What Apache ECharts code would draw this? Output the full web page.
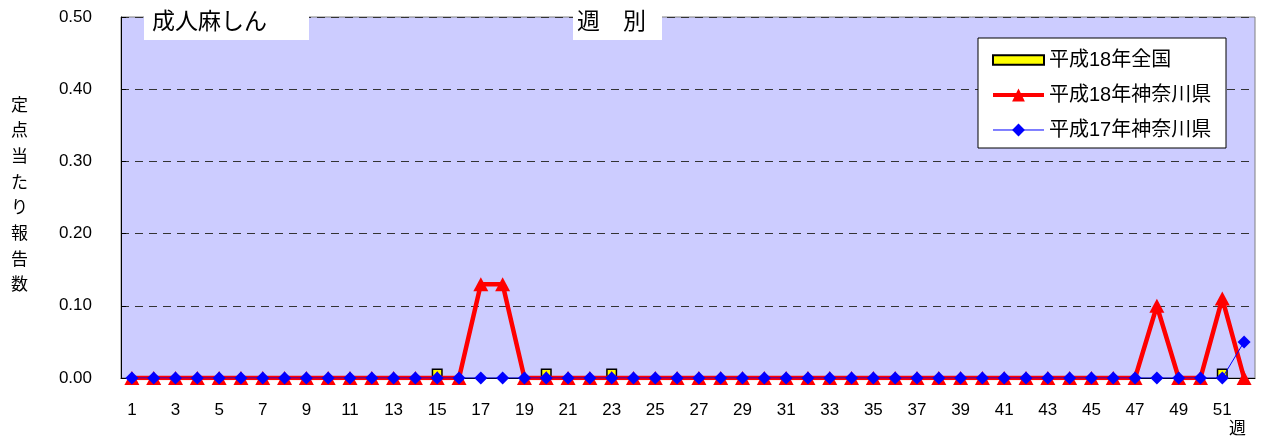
<!DOCTYPE html>
<html><head><meta charset="utf-8">
<script src="https://cdn.jsdelivr.net/npm/echarts@6/dist/echarts.min.js"></script>
<style>html,body{margin:0;padding:0;background:#fff}#c{width:1262px;height:443px}</style>
</head><body><div id="c"></div>
<script>
const weeks = Array.from({length:52},(_,i)=>String(i+1));
const national18 = [null,null,null,null,null,null,null,null,null,null,null,null,null,null,0.013,null,null,null,null,0.013,null,null,0.013,null,null,null,null,null,null,null,null,null,null,null,null,null,null,null,null,null,null,null,null,null,null,null,null,null,null,null,0.013,null];
const kanagawa18 = [0,0,0,0,0,0,0,0,0,0,0,0,0,0,0,0,0.13,0.13,0,0,0,0,0,0,0,0,0,0,0,0,0,0,0,0,0,0,0,0,0,0,0,0,0,0,0,0,0,0.10,0,0,0.11,0];
const kanagawa17 = [0,0,0,0,0,0,0,0,0,0,0,0,0,0,0,0,0,0,0,0,0,0,0,0,0,0,0,0,0,0,0,0,0,0,0,0,0,0,0,0,0,0,0,0,0,0,0,0,0,0,0,0.05];
const seriesNames = ['平成18年全国','平成18年神奈川県','平成17年神奈川県'];
const yTicks = [0,0.1,0.2,0.3,0.4,0.5];
const FONT = 'Liberation Sans, Noto Sans CJK JP, sans-serif';

const chart = echarts.init(document.getElementById('c'));
chart.setOption({
  animation:false,
  textStyle:{fontFamily:FONT},
  grid:{left:121,right:7,top:17,bottom:65,show:true,backgroundColor:'#CCCCFF',borderColor:'#808080',borderWidth:1},
  xAxis:{type:'category',data:weeks,boundaryGap:true,
    axisLine:{lineStyle:{color:'#000',width:1}},
    axisTick:{inside:true,length:5,interval:0,lineStyle:{color:'#000'}},
    axisLabel:{interval:1,color:'#000',fontSize:17,margin:24,fontFamily:FONT}},
  yAxis:{type:'value',min:0,max:0.5,interval:0.1,
    axisLine:{show:true,lineStyle:{color:'#000'}},
    axisTick:{show:true,inside:true,length:5,lineStyle:{color:'#000'}},
    splitLine:{show:true,lineStyle:{color:'#333',type:[8,6],width:1}},
    axisLabel:{color:'#000',fontSize:17,margin:29,fontFamily:FONT,formatter:v=>v.toFixed(2)}},
  legend:{orient:'vertical',left:986,top:45,itemWidth:51,itemHeight:16,itemGap:15,itemSymbolKeepAspect:true,
    textStyle:{fontSize:20,color:'#000',fontFamily:FONT},
    data:[{name:seriesNames[0],icon:'path://M0,0H48V9H0Z'},
      {name:seriesNames[1],lineStyle:{width:4,color:'#FF0000'}},
      {name:seriesNames[2],lineStyle:{width:1,color:'#0000FF'}}],
    z:10},
  graphic:[
    {type:'rect',shape:{x:978,y:38,width:248,height:110},style:{fill:'#fff',stroke:'#000',lineWidth:1},z:5},
    {type:'rect',shape:{x:144,y:4,width:165,height:36},style:{fill:'#fff'},z:5},
    {type:'rect',shape:{x:573,y:4,width:89,height:36},style:{fill:'#fff'},z:5},
    {type:'text',left:152,top:11,style:{text:'成人麻しん',font:'23px '+FONT,fill:'#000'},z:6},
    {type:'text',left:577,top:11,style:{text:'週　別',font:'23px '+FONT,fill:'#000'},z:6},
    {type:'text',left:11,top:93,style:{text:'定\n点\n当\nた\nり\n報\n告\n数',font:'17px '+FONT,fill:'#000',lineHeight:25.7},z:6},
    {type:'text',left:1229,top:421,style:{text:'週',font:'17px '+FONT,fill:'#000'},z:6}
  ],
  series:[
    {name:seriesNames[0],type:'bar',data:national18,barWidth:11,barGap:'-100%',
      itemStyle:{color:'#FFFF00',borderColor:'#000',borderWidth:1.5}},
    {name:seriesNames[1],type:'line',data:kanagawa18,symbol:'triangle',symbolSize:[15,14],
      lineStyle:{color:'#FF0000',width:4.5},itemStyle:{color:'#FF0000'}},
    {name:seriesNames[2],type:'line',data:kanagawa17,symbol:'diamond',symbolSize:13,
      lineStyle:{color:'#0000FF',width:1},itemStyle:{color:'#0000FF'}}
  ]
});
</script></body></html>
